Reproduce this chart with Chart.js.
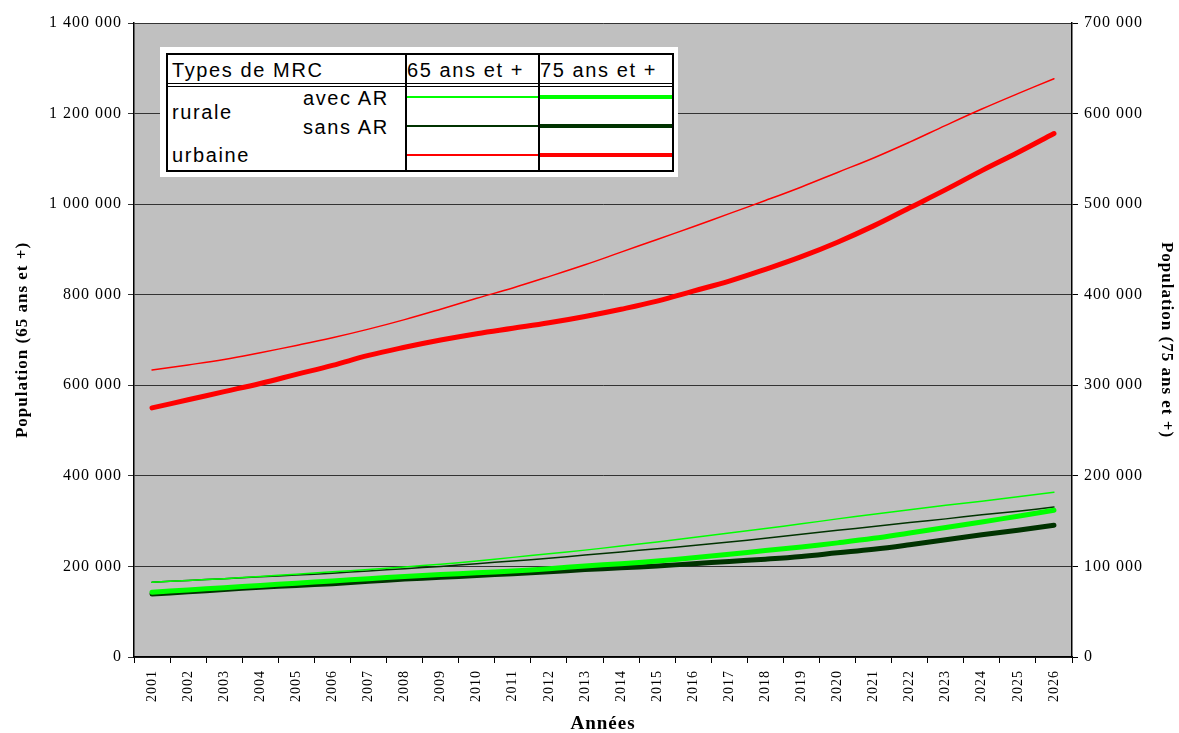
<!DOCTYPE html>
<html>
<head>
<meta charset="utf-8">
<script src="https://cdn.jsdelivr.net/npm/chart.js@4.4.1/dist/chart.umd.min.js"></script>
<style>
  html,body{margin:0;padding:0;background:#fff;}
  #wrap{position:relative;width:1179px;height:733px;}
  #legend{position:absolute;left:160px;top:47px;width:518px;height:130px;background:#fff;}
  #legend .box{position:absolute;left:6px;top:6px;width:504px;height:115px;border:2px solid #000;}
  #legend .t{position:absolute;font-family:"Liberation Sans",Arial,sans-serif;font-size:20px;color:#000;white-space:nowrap;letter-spacing:1.6px;line-height:20px;}
  #legend .v{position:absolute;top:0;width:2px;height:115px;background:#000;}
  #legend .h{position:absolute;left:0;width:504px;height:1px;background:#000;}
  #legend .ln{position:absolute;}
</style>
</head>
<body>
<div id="wrap">
  <canvas id="c" width="1179" height="733"></canvas>
  <div id="legend">
    <div class="box">
      <div class="t" style="left:4px;top:5px;">Types de MRC</div>
      <div class="t" style="left:239px;top:5px;">65 ans et +</div>
      <div class="t" style="left:372px;top:5px;">75 ans et +</div>
      <div class="h" style="top:28px;"></div>
      <div class="h" style="top:31px;"></div>
      <div class="v" style="left:237px;"></div>
      <div class="v" style="left:370px;"></div>
      <div class="t" style="left:135px;top:33px;">avec AR</div>
      <div class="t" style="left:4px;top:47px;">rurale</div>
      <div class="t" style="left:135px;top:62px;">sans AR</div>
      <div class="t" style="left:4px;top:90px;">urbaine</div>
      <div class="ln" style="left:239px;top:41px;width:131px;height:2px;background:#00ff00;"></div>
      <div class="ln" style="left:239px;top:70px;width:131px;height:2px;background:#003300;"></div>
      <div class="ln" style="left:239px;top:99px;width:131px;height:2px;background:#ff0000;"></div>
      <div class="ln" style="left:372px;top:40px;width:132px;height:4px;background:#00ff00;"></div>
      <div class="ln" style="left:372px;top:69px;width:132px;height:4px;background:#003300;"></div>
      <div class="ln" style="left:372px;top:98px;width:132px;height:4px;background:#ff0000;"></div>
    </div>
  </div>
</div>
<script>
// Years
const years = ['2001','2002','2003','2004','2005','2006','2007','2008','2009','2010','2011','2012','2013',
  '2014','2015','2016','2017','2018','2019','2020','2021','2022','2023','2024','2025','2026'];

// 65 ans et + (left axis)
const urb65 = [634000,645000,657000,672000,688000,705000,724000,745000,768000,792000,815000,840000,866000,
  894000,922000,950000,979000,1008000,1038000,1070000,1102000,1137000,1174000,1210000,1244000,1277000];
const avecAR65 = [165000,169000,173000,178000,183000,188000,193000,199000,205000,212000,220000,228000,236000,
  245000,254000,264000,274000,284000,294000,305000,315000,325000,335000,344000,354000,364000];
const sansAR65 = [165000,169000,173000,177000,181000,185000,190000,195000,200000,206000,212000,218000,225000,
  232000,239000,246000,254000,262000,271000,280000,288000,297000,305000,314000,322000,331000];

// 75 ans et + (right axis)
const urb75 = [275000,284000,293000,302000,312000,322000,333000,342000,350000,357000,363000,369000,376000,
  384000,393000,404000,415000,428000,442000,458000,476000,496000,516000,537000,557000,578000];
const avecAR75 = [71500,74000,76500,79000,81500,84000,86500,89000,91000,93000,95000,97500,100500,
  103000,106000,109500,113500,117500,121500,126000,131000,137000,143000,149000,155500,162000];
const sansAR75 = [69500,72000,74500,77000,79000,81000,83500,86000,88000,90000,92000,94000,96500,
  98500,100500,103000,105500,108000,111000,115000,119000,124000,129500,135000,140000,145500];

const GREEN = '#00ff00', DARK = '#003300', RED = '#ff0000';
const fmt = v => String(v).replace(/\B(?=(\d{3})+(?!\d))/g, ' ');
const serif = '"Liberation Serif","Times New Roman",serif';

// grey plot area + wider letter spacing like the original
const bgPlugin = {
  id: 'bg',
  beforeDraw(chart){
    const {ctx, chartArea:a} = chart;
    ctx.save();
    ctx.fillStyle = '#c0c0c0';
    ctx.fillRect(a.left, a.top, a.right - a.left, a.bottom - a.top);
    ctx.restore();
    ctx.letterSpacing = '1px';
  }
};

function line(label, data, color, width, axis){
  return {label, data, borderColor: color, backgroundColor: color, borderWidth: width,
    pointRadius: 0, tension: 0.4, yAxisID: axis, borderCapStyle: 'round', fill: false};
}

new Chart(document.getElementById('c'), {
  type: 'line',
  data: {
    labels: years,
    datasets: [
      line('urbaine 75 ans et +', urb75, RED, 5, 'y2'),
      line('rurale avec AR 75 ans et +', avecAR75, GREEN, 5, 'y2'),
      line('rurale sans AR 75 ans et +', sansAR75, DARK, 5, 'y2'),
      line('urbaine 65 ans et +', urb65, RED, 1.5, 'y'),
      line('rurale avec AR 65 ans et +', avecAR65, GREEN, 1.5, 'y'),
      line('rurale sans AR 65 ans et +', sansAR65, DARK, 1.5, 'y')
    ]
  },
  options: {
    responsive: false,
    animation: false,
    layout: {padding: {top: 23, left: 0, right: 0, bottom: 0}},
    plugins: {legend: {display: false}, tooltip: {enabled: false}},
    scales: {
      x: {
        offset: true,
        grid: {offset: true, drawOnChartArea: false, tickLength: 6, color: '#000'},
        border: {color: '#000', width: 1.5},
        ticks: {minRotation: 90, maxRotation: 90, color: '#000', font: {family: serif, size: 14}, padding: 7},
        title: {display: true, text: 'Années', color: '#000', font: {family: serif, size: 19, weight: 'bold'}, padding: {top: 0, bottom: -2}},
        afterFit: s => { s.height = 76; }
      },
      y: {
        position: 'left', min: 0, max: 1400000,
        grid: {color: '#333', tickLength: 6, lineWidth: 1},
        border: {color: '#000', width: 1.5},
        ticks: {stepSize: 200000, color: '#000', font: {family: serif, size: 16}, callback: v => fmt(v), padding: 6},
        title: {display: true, text: 'Population (65 ans et +)', color: '#000', font: {family: serif, size: 17, weight: 'bold'}, padding: {top: 12, bottom: 4}},
        afterFit: s => { s.width = 134; }
      },
      y2: {
        position: 'right', min: 0, max: 700000,
        grid: {drawOnChartArea: false, tickLength: 6, color: '#000'},
        border: {color: '#000', width: 1.5},
        ticks: {stepSize: 100000, color: '#000', font: {family: serif, size: 16}, callback: v => fmt(v), padding: 6},
        title: {display: true, text: 'Population (75 ans et +)', color: '#000', font: {family: serif, size: 17, weight: 'bold'}, padding: {top: 2, bottom: 4}},
        afterFit: s => { s.width = 107; }
      }
    }
  },
  plugins: [bgPlugin]
});
</script>
</body>
</html>
